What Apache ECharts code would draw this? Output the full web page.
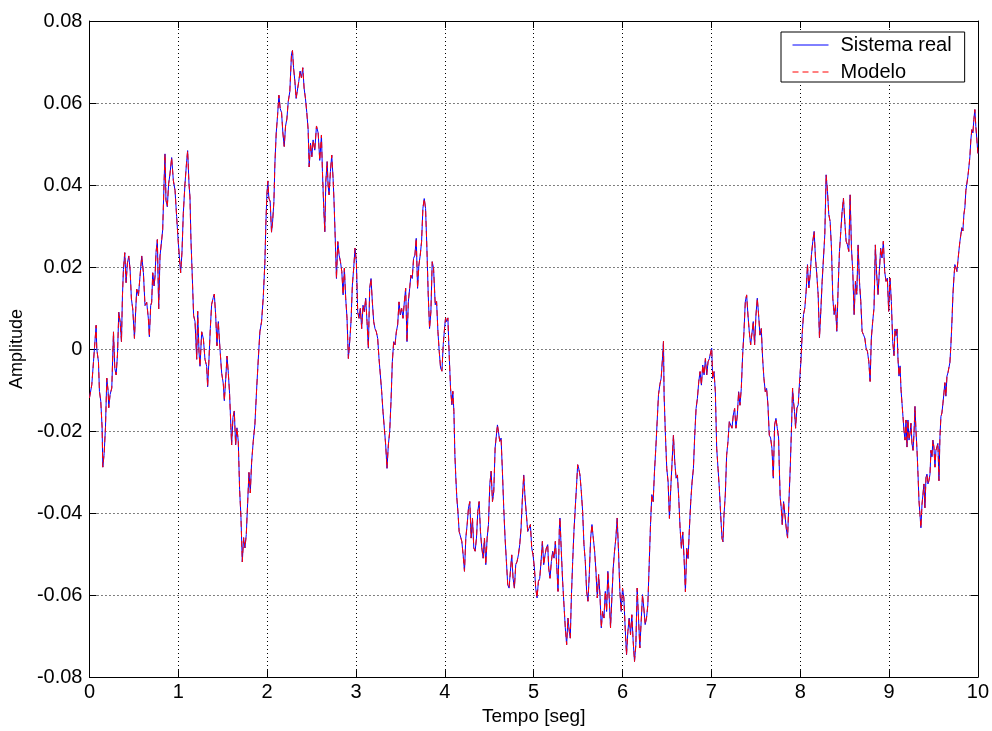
<!DOCTYPE html>
<html>
<head>
<meta charset="utf-8">
<script src="https://cdn.jsdelivr.net/npm/echarts@6/dist/echarts.min.js"></script>
<style>
  html, body { margin: 0; padding: 0; background: #fff; }
  #chart { width: 992px; height: 731px; }
</style>
</head>
<body>
<div id="chart"></div>
<script>
// Respuesta medida del sistema real: pares [tiempo (s), amplitud]
const tramo0a2 = [
  [0.000,-0.0119],[0.026,-0.0087],[0.045,-0.0031],[0.056,0.0002],[0.075,0.0058],[0.082,0.0000],[0.101,-0.0031],[0.112,-0.0103],[0.127,-0.0127],[0.142,-0.0191],
  [0.150,-0.0288],[0.165,-0.0255],[0.180,-0.0191],[0.195,-0.0071],[0.210,-0.0103],[0.217,-0.0143],[0.232,-0.0111],[0.251,-0.0095],[0.270,0.0042],[0.285,-0.0047],
  [0.300,-0.0063],[0.315,-0.0014],[0.330,0.0090],[0.345,0.0066],[0.360,0.0018],[0.371,0.0130],[0.382,0.0194],[0.397,0.0235],[0.412,0.0162],[0.427,0.0210],
  [0.442,0.0227],[0.457,0.0194],[0.472,0.0122],[0.487,0.0098],[0.506,0.0026],[0.521,0.0098],[0.532,0.0146],[0.551,0.0130],[0.569,0.0178],[0.588,0.0227],
  [0.607,0.0186],[0.625,0.0106],[0.644,0.0114],[0.663,0.0074],[0.674,0.0030],[0.689,0.0106],[0.700,0.0114],[0.712,0.0186],[0.727,0.0154],[0.738,0.0178],
  [0.749,0.0235],[0.764,0.0267],[0.779,0.0098],[0.794,0.0227],[0.813,0.0267],[0.824,0.0291],[0.839,0.0403],[0.850,0.0476],[0.861,0.0363],[0.876,0.0347],
  [0.891,0.0403],[0.906,0.0427],[0.925,0.0467],[0.944,0.0411],[0.963,0.0387],[0.981,0.0323],[1.000,0.0259],[1.011,0.0227],[1.026,0.0186],[1.041,0.0235],
  [1.056,0.0331],[1.075,0.0403],[1.094,0.0459],[1.105,0.0484],[1.120,0.0403],[1.131,0.0371],[1.142,0.0267],[1.157,0.0178],[1.172,0.0082],[1.188,0.0067],
  [1.207,-0.0025],[1.218,0.0092],[1.233,-0.0008],[1.244,-0.0042],[1.263,0.0042],[1.282,0.0025],[1.300,-0.0025],[1.319,-0.0042],[1.330,-0.0092],[1.345,-0.0025],
  [1.360,0.0050],[1.375,0.0109],[1.394,0.0126],[1.405,0.0134],[1.420,0.0084],[1.435,0.0008],[1.450,0.0067],[1.469,0.0000],[1.488,-0.0059],[1.506,-0.0084],
  [1.518,-0.0126],[1.533,-0.0075],[1.548,-0.0017],[1.563,-0.0059],[1.577,-0.0109],[1.592,-0.0192],[1.600,-0.0234],[1.615,-0.0167],[1.630,-0.0151],[1.645,-0.0234],
  [1.660,-0.0192],[1.675,-0.0226],[1.690,-0.0343],[1.705,-0.0410],[1.720,-0.0519],[1.735,-0.0460],[1.750,-0.0485],[1.765,-0.0452],[1.780,-0.0377],[1.795,-0.0301],
  [1.810,-0.0351],[1.825,-0.0276],[1.843,-0.0226],[1.862,-0.0184],[1.881,-0.0100],[1.900,-0.0025],[1.918,0.0042],[1.937,0.0067],[1.956,0.0126],[1.974,0.0209],
  [1.986,0.0310],[1.997,0.0377]
];
const tramo2a4 = [
  [2.008,0.0410],[2.019,0.0368],[2.034,0.0360],[2.049,0.0285],[2.061,0.0310],[2.076,0.0360],[2.087,0.0452],[2.102,0.0527],[2.117,0.0569],[2.132,0.0619],
  [2.147,0.0586],[2.162,0.0577],[2.177,0.0527],[2.192,0.0494],[2.207,0.0544],[2.222,0.0561],[2.237,0.0603],[2.255,0.0628],[2.274,0.0720],[2.285,0.0728],
  [2.297,0.0686],[2.312,0.0653],[2.326,0.0611],[2.341,0.0611],[2.356,0.0653],[2.371,0.0678],[2.386,0.0661],[2.401,0.0686],[2.416,0.0636],[2.431,0.0611],
  [2.446,0.0577],[2.461,0.0536],[2.473,0.0444],[2.488,0.0502],[2.503,0.0469],[2.517,0.0510],[2.536,0.0485],[2.555,0.0544],[2.574,0.0527],[2.592,0.0460],
  [2.611,0.0522],[2.622,0.0433],[2.637,0.0343],[2.649,0.0286],[2.660,0.0408],[2.675,0.0457],[2.686,0.0400],[2.697,0.0376],[2.712,0.0433],[2.727,0.0473],
  [2.742,0.0416],[2.753,0.0359],[2.765,0.0278],[2.780,0.0172],[2.795,0.0262],[2.810,0.0229],[2.825,0.0213],[2.840,0.0189],[2.855,0.0132],[2.869,0.0197],
  [2.884,0.0124],[2.899,0.0075],[2.914,-0.0023],[2.929,0.0018],[2.944,0.0067],[2.959,0.0156],[2.974,0.0197],[2.989,0.0246],[3.004,0.0213],[3.019,0.0091],
  [3.034,0.0075],[3.049,0.0099],[3.064,0.0050],[3.079,0.0107],[3.094,0.0091],[3.109,0.0124],[3.124,0.0067],[3.139,0.0002],[3.154,0.0148],[3.169,0.0172],
  [3.184,0.0115],[3.199,0.0067],[3.214,0.0050],[3.229,0.0042],[3.244,0.0026],[3.259,-0.0023],[3.274,-0.0063],[3.289,-0.0104],[3.304,-0.0153],[3.319,-0.0193],
  [3.334,-0.0234],[3.349,-0.0291],[3.364,-0.0234],[3.379,-0.0202],[3.394,-0.0128],[3.409,-0.0031],[3.424,0.0018],[3.439,0.0010],[3.454,0.0042],[3.469,0.0059],
  [3.484,0.0115],[3.499,0.0083],[3.514,0.0099],[3.529,0.0075],[3.544,0.0115],[3.559,0.0148],[3.574,0.0018],[3.589,0.0115],[3.604,0.0148],[3.618,0.0180],
  [3.633,0.0172],[3.648,0.0221],[3.663,0.0229],[3.678,0.0270],[3.693,0.0148],[3.708,0.0205],[3.723,0.0229],[3.738,0.0262],[3.753,0.0343],[3.768,0.0367],
  [3.783,0.0343],[3.798,0.0246],[3.813,0.0132],[3.828,0.0050],[3.843,0.0091],[3.858,0.0213],[3.873,0.0197],[3.892,0.0108],[3.907,0.0116],[3.922,0.0043],
  [3.937,-0.0006],[3.952,-0.0046],[3.967,-0.0054],[3.982,0.0011],[3.997,0.0051]
];
const tramo4a6 = [
  [4.008,0.0076],[4.019,0.0067],[4.034,0.0076],[4.049,-0.0014],[4.064,-0.0095],[4.079,-0.0136],[4.090,-0.0103],[4.102,-0.0152],[4.113,-0.0258],[4.124,-0.0315],
  [4.135,-0.0363],[4.147,-0.0396],[4.161,-0.0445],[4.176,-0.0445],[4.191,-0.0469],[4.206,-0.0502],[4.221,-0.0542],[4.236,-0.0461],[4.251,-0.0428],[4.266,-0.0388],
  [4.281,-0.0372],[4.296,-0.0461],[4.311,-0.0412],[4.326,-0.0485],[4.341,-0.0493],[4.356,-0.0461],[4.371,-0.0396],[4.386,-0.0372],[4.401,-0.0445],[4.416,-0.0485],
  [4.431,-0.0510],[4.446,-0.0461],[4.461,-0.0526],[4.476,-0.0461],[4.491,-0.0428],[4.506,-0.0331],[4.521,-0.0298],[4.536,-0.0372],[4.551,-0.0347],[4.566,-0.0241],
  [4.577,-0.0217],[4.592,-0.0185],[4.603,-0.0201],[4.618,-0.0225],[4.633,-0.0217],[4.648,-0.0298],[4.663,-0.0388],[4.678,-0.0461],[4.693,-0.0518],[4.708,-0.0575],
  [4.723,-0.0583],[4.738,-0.0542],[4.753,-0.0502],[4.768,-0.0559],[4.783,-0.0583],[4.798,-0.0526],[4.813,-0.0518],[4.828,-0.0502],[4.843,-0.0477],[4.858,-0.0437],
  [4.873,-0.0363],[4.888,-0.0307],[4.903,-0.0363],[4.918,-0.0404],[4.933,-0.0445],[4.948,-0.0437],[4.963,-0.0428],[4.978,-0.0485],[4.993,-0.0502],[5.008,-0.0534],
  [5.023,-0.0583],[5.038,-0.0607],[5.053,-0.0567],[5.068,-0.0559],[5.083,-0.0518],[5.098,-0.0469],[5.113,-0.0526],[5.128,-0.0502],[5.143,-0.0485],[5.158,-0.0477],
  [5.169,-0.0534],[5.184,-0.0559],[5.199,-0.0518],[5.214,-0.0493],[5.229,-0.0510],[5.244,-0.0469],[5.259,-0.0526],[5.274,-0.0591],[5.289,-0.0437],[5.296,-0.0412],
  [5.311,-0.0493],[5.326,-0.0567],[5.341,-0.0624],[5.356,-0.0680],[5.371,-0.0721],[5.386,-0.0656],[5.401,-0.0689],[5.412,-0.0705],[5.424,-0.0607],[5.439,-0.0518],
  [5.453,-0.0445],[5.468,-0.0388],[5.483,-0.0331],[5.495,-0.0282],[5.506,-0.0290],[5.521,-0.0307],[5.536,-0.0347],[5.551,-0.0396],[5.566,-0.0477],[5.581,-0.0518],
  [5.596,-0.0591],[5.611,-0.0615],[5.626,-0.0550],[5.641,-0.0461],[5.656,-0.0428],[5.671,-0.0461],[5.686,-0.0493],[5.701,-0.0542],[5.716,-0.0607],[5.731,-0.0550],
  [5.746,-0.0599],[5.761,-0.0680],[5.776,-0.0640],[5.791,-0.0656],[5.806,-0.0591],[5.821,-0.0640],[5.835,-0.0542],[5.850,-0.0607],[5.865,-0.0680],[5.880,-0.0607],
  [5.895,-0.0535],[5.910,-0.0493],[5.925,-0.0461],[5.940,-0.0412],[5.955,-0.0493],[5.970,-0.0591],[5.985,-0.0640],[6.000,-0.0583]
];
const tramo6a8 = [
  [6.015,-0.0607],[6.030,-0.0680],[6.045,-0.0746],[6.060,-0.0689],[6.075,-0.0656],[6.090,-0.0697],[6.105,-0.0648],[6.120,-0.0713],[6.135,-0.0762],[6.150,-0.0721],
  [6.165,-0.0583],[6.180,-0.0656],[6.195,-0.0729],[6.210,-0.0664],[6.225,-0.0599],[6.240,-0.0632],[6.255,-0.0672],[6.270,-0.0656],[6.285,-0.0624],[6.300,-0.0526],
  [6.315,-0.0428],[6.330,-0.0355],[6.345,-0.0372],[6.360,-0.0298],[6.375,-0.0241],[6.390,-0.0176],[6.405,-0.0111],[6.420,-0.0087],[6.435,-0.0071],[6.450,-0.0022],
  [6.461,0.0019],[6.468,-0.0112],[6.483,-0.0210],[6.498,-0.0291],[6.513,-0.0324],[6.528,-0.0413],[6.543,-0.0340],[6.558,-0.0275],[6.573,-0.0210],[6.588,-0.0275],
  [6.603,-0.0315],[6.618,-0.0307],[6.633,-0.0364],[6.648,-0.0437],[6.663,-0.0486],[6.678,-0.0446],[6.693,-0.0511],[6.708,-0.0592],[6.723,-0.0486],[6.738,-0.0511],
  [6.753,-0.0437],[6.768,-0.0372],[6.783,-0.0324],[6.798,-0.0291],[6.813,-0.0210],[6.828,-0.0145],[6.843,-0.0120],[6.858,-0.0080],[6.873,-0.0055],[6.888,-0.0088],
  [6.903,-0.0039],[6.918,-0.0063],[6.933,-0.0023],[6.948,-0.0063],[6.963,-0.0031],[6.978,-0.0023],[6.993,-0.0007],[7.004,0.0002],[7.015,-0.0072],[7.030,-0.0055],
  [7.045,-0.0104],[7.060,-0.0242],[7.075,-0.0291],[7.090,-0.0340],[7.105,-0.0405],[7.120,-0.0462],[7.131,-0.0470],[7.142,-0.0405],[7.157,-0.0356],[7.172,-0.0259],
  [7.187,-0.0226],[7.202,-0.0177],[7.217,-0.0177],[7.232,-0.0193],[7.247,-0.0161],[7.262,-0.0145],[7.277,-0.0193],[7.292,-0.0161],[7.307,-0.0104],[7.322,-0.0137],
  [7.337,-0.0096],[7.352,-0.0015],[7.367,0.0042],[7.382,0.0115],[7.397,0.0132],[7.412,0.0083],[7.427,0.0042],[7.442,0.0010],[7.457,0.0010],[7.472,0.0067],
  [7.487,0.0010],[7.502,0.0083],[7.517,0.0124],[7.532,0.0083],[7.547,0.0034],[7.562,0.0050],[7.577,-0.0023],[7.592,-0.0072],[7.607,-0.0104],[7.622,-0.0096],
  [7.637,-0.0137],[7.652,-0.0210],[7.667,-0.0217],[7.682,-0.0242],[7.697,-0.0315],[7.712,-0.0185],[7.727,-0.0169],[7.742,-0.0193],[7.757,-0.0217],[7.764,-0.0282],
  [7.775,-0.0363],[7.787,-0.0388],[7.798,-0.0428],[7.813,-0.0372],[7.828,-0.0404],[7.843,-0.0437],[7.858,-0.0461],[7.873,-0.0372],[7.888,-0.0290],[7.903,-0.0185],
  [7.914,-0.0095],[7.925,-0.0128],[7.936,-0.0152],[7.948,-0.0193],[7.963,-0.0144],[7.978,-0.0136],[7.993,-0.0079]
];
const tramo8a10 = [
  [8.008,-0.0030],[8.022,0.0035],[8.037,0.0084],[8.052,0.0100],[8.067,0.0141],[8.082,0.0206],[8.097,0.0149],[8.112,0.0181],[8.127,0.0230],[8.142,0.0263],
  [8.157,0.0287],[8.172,0.0222],[8.187,0.0181],[8.202,0.0133],[8.217,0.0027],[8.232,0.0092],[8.247,0.0165],[8.262,0.0222],[8.277,0.0279],[8.292,0.0425],
  [8.307,0.0385],[8.322,0.0328],[8.337,0.0311],[8.352,0.0246],[8.367,0.0124],[8.382,0.0084],[8.397,0.0108],[8.412,0.0043],[8.427,0.0149],[8.442,0.0238],
  [8.457,0.0287],[8.472,0.0336],[8.487,0.0368],[8.502,0.0311],[8.517,0.0263],[8.532,0.0254],[8.547,0.0238],[8.562,0.0376],[8.577,0.0246],[8.592,0.0189],
  [8.607,0.0084],[8.622,0.0165],[8.637,0.0133],[8.652,0.0254],[8.667,0.0165],[8.682,0.0116],[8.697,0.0043],[8.712,0.0035],[8.727,0.0027],[8.742,0.0002],
  [8.757,-0.0006],[8.772,-0.0030],[8.787,-0.0079],[8.801,0.0027],[8.816,0.0067],[8.831,0.0100],[8.846,0.0254],[8.861,0.0181],[8.876,0.0133],[8.891,0.0189],
  [8.906,0.0246],[8.921,0.0222],[8.936,0.0263],[8.951,0.0189],[8.966,0.0165],[8.981,0.0173],[8.996,0.0092],[9.011,0.0173],[9.026,0.0116],[9.041,0.0019],
  [9.056,-0.0016],[9.067,0.0049],[9.079,0.0033],[9.090,0.0049],[9.101,-0.0025],[9.112,-0.0066],[9.124,-0.0041],[9.135,-0.0099],[9.146,-0.0132],[9.157,-0.0165],
  [9.168,-0.0198],[9.180,-0.0222],[9.191,-0.0173],[9.202,-0.0239],[9.213,-0.0173],[9.225,-0.0222],[9.236,-0.0206],[9.247,-0.0181],[9.258,-0.0230],[9.270,-0.0247],
  [9.281,-0.0206],[9.292,-0.0140],[9.303,-0.0198],[9.315,-0.0247],[9.326,-0.0305],[9.337,-0.0370],[9.348,-0.0403],[9.359,-0.0436],[9.371,-0.0379],[9.382,-0.0354],
  [9.393,-0.0329],[9.404,-0.0387],[9.416,-0.0313],[9.427,-0.0305],[9.438,-0.0329],[9.449,-0.0321],[9.461,-0.0305],[9.472,-0.0247],[9.483,-0.0263],[9.494,-0.0222],
  [9.505,-0.0239],[9.517,-0.0288],[9.528,-0.0247],[9.539,-0.0239],[9.550,-0.0230],[9.562,-0.0321],[9.573,-0.0214],[9.584,-0.0165],[9.595,-0.0156],[9.607,-0.0132],
  [9.618,-0.0107],[9.629,-0.0082],[9.640,-0.0115],[9.652,-0.0066],[9.663,-0.0058],[9.674,-0.0058],[9.685,-0.0033],[9.696,0.0008],[9.708,0.0066],[9.719,0.0132],
  [9.730,0.0173],[9.741,0.0206],[9.753,0.0198],[9.764,0.0189],[9.775,0.0214],[9.786,0.0239],[9.798,0.0263],[9.809,0.0280],[9.820,0.0296],[9.831,0.0288],
  [9.843,0.0329],[9.854,0.0346],[9.865,0.0387],[9.876,0.0387],[9.887,0.0420],[9.899,0.0444],[9.910,0.0469],[9.921,0.0510],[9.932,0.0535],[9.944,0.0527],
  [9.955,0.0560],[9.966,0.0584],[9.977,0.0543],[9.989,0.0510],[10.000,0.0477]
];

const sistemaReal = [].concat(tramo0a2, tramo2a4, tramo4a6, tramo6a8, tramo8a10);
// La salida del modelo sigue al sistema real punto a punto
const modelo = sistemaReal;

const nombresSeries = ['Sistema real', 'Modelo'];
const ejeX = { min: 0, max: 10, paso: 1, titulo: 'Tempo [seg]' };
const ejeY = { min: -0.08, max: 0.08, paso: 0.02, titulo: 'Amplitude' };

const FUENTE = '"Liberation Sans", Arial, Helvetica, sans-serif';

const chart = echarts.init(document.getElementById('chart'), null, { renderer: 'canvas' });

const tickInterior = { show: true, inside: true, length: 7, lineStyle: { color: '#000', width: 1 } };
const lineaEje = { show: true, onZero: false, lineStyle: { color: '#000', width: 1 } };
const rejilla = { show: true, lineStyle: { color: '#000', width: 1, type: [1, 3] } };

function etiquetaY(v) {
  const r = Math.round(v * 100) / 100;
  return r === 0 ? '0' : r.toFixed(2);
}

chart.setOption({
  animation: false,
  backgroundColor: '#ffffff',
  textStyle: { fontFamily: FUENTE },
  grid: { left: 89, right: 13, top: 21, bottom: 51, containLabel: false },
  legend: {
    data: nombresSeries,
    orient: 'vertical',
    left: 781,
    top: 32,
    padding: [3, 13, 0, 11],
    itemWidth: 36,
    itemHeight: 14,
    itemGap: 7,
    selectedMode: false,
    backgroundColor: '#ffffff',
    borderColor: '#000000',
    borderWidth: 1,
    borderRadius: 0,
    // solo el trazo de la línea en la leyenda, sin marcador
    itemStyle: { opacity: 0 },
    lineStyle: { width: 1 },
    textStyle: { fontFamily: FUENTE, fontSize: 20, lineHeight: 20, color: '#000', padding: [0, 0, 0, 7] }
  },
  xAxis: [
    {
      type: 'value', position: 'bottom',
      min: ejeX.min, max: ejeX.max, interval: ejeX.paso,
      name: ejeX.titulo, nameLocation: 'middle', nameGap: 28,
      nameTextStyle: { fontFamily: FUENTE, fontSize: 19, color: '#000' },
      axisLine: lineaEje, axisTick: tickInterior,
      axisLabel: { show: true, margin: 5, fontFamily: FUENTE, fontSize: 20, color: '#000' },
      splitLine: rejilla
    },
    {
      type: 'value', position: 'top',
      min: ejeX.min, max: ejeX.max, interval: ejeX.paso,
      axisLine: lineaEje, axisTick: tickInterior,
      axisLabel: { show: false }, splitLine: { show: false }
    }
  ],
  yAxis: [
    {
      type: 'value', position: 'left',
      min: ejeY.min, max: ejeY.max, interval: ejeY.paso,
      name: ejeY.titulo, nameLocation: 'middle', nameGap: 57, nameRotate: 90,
      nameTextStyle: { fontFamily: FUENTE, fontSize: 18, color: '#000' },
      axisLine: lineaEje, axisTick: tickInterior,
      axisLabel: { show: true, margin: 7, fontFamily: FUENTE, fontSize: 20, color: '#000', formatter: etiquetaY },
      splitLine: rejilla
    },
    {
      type: 'value', position: 'right',
      min: ejeY.min, max: ejeY.max, interval: ejeY.paso,
      axisLine: lineaEje, axisTick: tickInterior,
      axisLabel: { show: false }, splitLine: { show: false }
    }
  ],
  series: [
    {
      name: nombresSeries[0], type: 'line', xAxisIndex: 0, yAxisIndex: 0,
      data: sistemaReal, symbol: 'none', smooth: false,
      lineStyle: { color: '#0000ff', width: 1 },
      itemStyle: { color: '#0000ff' }, z: 2
    },
    {
      name: nombresSeries[1], type: 'line', xAxisIndex: 0, yAxisIndex: 0,
      data: modelo, symbol: 'none', smooth: false,
      lineStyle: { color: '#ff0000', width: 1, type: [6, 4] },
      itemStyle: { color: '#ff0000' }, z: 3
    }
  ]
});
</script>
</body>
</html>
